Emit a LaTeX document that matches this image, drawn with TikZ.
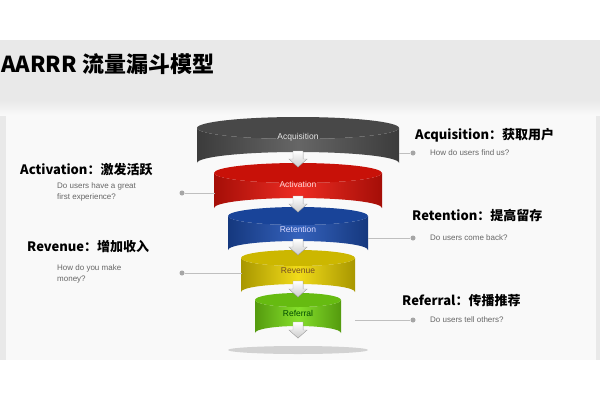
\documentclass[tikz,border=0pt]{standalone}
\usepackage{fontspec}
\setmainfont{Liberation Sans}
\newfontfamily\cjk{Noto Sans CJK SC}
\usetikzlibrary{calc}
\definecolor{cgray}{RGB}{85,85,85}
\definecolor{cred}{RGB}{235,20,10}
\definecolor{cblue}{RGB}{30,80,180}
\definecolor{cyel}{RGB}{240,215,0}
\definecolor{cgreen}{RGB}{120,220,20}
\tikzset{
 head/.style={font=\cjk\fontsize{13}{15}\selectfont\bfseries, anchor=west, inner sep=0},
 sub/.style={font=\fontsize{8}{11}\selectfont, text=gray!80!black, anchor=west, align=left, inner sep=0},
 dot/.style={circle, fill=gray!70, inner sep=0, minimum size=5pt},
 lead/.style={draw=gray!50, line width=0.6pt},
 lbl/.style={font=\fontsize{8.5}{10}\selectfont, inner sep=0},
}
\newcommand{\mydisk}[7]{% cx, ytop, ybot, rx, ry, color, name
 \shade[left color=#6!70!black, right color=#6!70!black, middle color=#6!90!white]
   (#1-#4,#2) -- (#1-#4,#3) arc[start angle=180,end angle=360,x radius=#4,y radius=#5] -- (#1+#4,#2) arc[start angle=0,end angle=180,x radius=#4,y radius=#5] -- cycle;
 \fill[#6!85!black] (#1,#2) ellipse[x radius=#4,y radius=#5];
 \coordinate (#7) at (#1,{(#2+#3)/2});
}
\newcommand{\myarrow}[2]{% cx, ytop
 \filldraw[draw=gray!60, top color=white, bottom color=gray!40] (#1-5,#2) -- (#1+5,#2) -- (#1+5,#2+8) -- (#1+9,#2+8) -- (#1,#2+16) -- (#1-9,#2+8) -- (#1-5,#2+8) -- cycle;
}
\begin{document}
\begin{tikzpicture}[x=1pt,y=-1pt]
\useasboundingbox (0,0) rectangle (600,400);
\fill[white] (0,0) rectangle (600,400);
\fill[gray!17] (0,40) rectangle (600,360);
\shade[top color=gray!17, bottom color=gray!5] (0,100) rectangle (600,115);
\fill[gray!5] (6,115) rectangle (596,360);
\node[font=\cjk\fontsize{22}{24}\selectfont\bfseries, anchor=west, inner sep=0] (title) at (1,64) {AARRR 流量漏斗模型};
\fill[gray!35] (298,350) ellipse[x radius=70,y radius=4];
\mydisk{298}{300}{333}{43}{7}{cgreen}{d5}
\mydisk{298}{258}{292}{57}{8}{cyel}{d4}
\mydisk{298}{216}{250}{70}{9}{cblue}{d3}
\mydisk{298}{173}{208}{84}{10}{cred}{d2}
\mydisk{298}{128}{163}{101}{11}{cgray}{d1}
\myarrow{298}{151}
\myarrow{298}{196}
\myarrow{298}{239}
\myarrow{298}{281}
\myarrow{298}{322}
\node[lbl, text=white!85!gray] (t1) at (298,137) {Acquisition};
\node[lbl, text=white!85!red] (t2) at (298,184) {Activation};
\node[lbl, text=white!85!blue] (t3) at (298,229) {Retention};
\node[lbl, text=brown!60!black] (t4) at (298,271) {Revenue};
\node[lbl, text=green!30!black] (t5) at (298,313) {Referral};
\node[head] (h1) at (415,135) {Acquisition：获取用户};
\node[sub] (s1) at (430,153) {How do users find us?};
\node[dot] (p1) at (413,153) {};
\draw[lead] (399,153) -- (p1);
\node[head] (h2) at (20,170) {Activation：激发活跃};
\node[sub] (s2) at (57,192) {Do users have a great\\first experience?};
\node[dot] (p2) at (182,193) {};
\draw[lead] (p2) -- (215,193);
\node[head] (h3) at (412,216) {Retention：提高留存};
\node[sub] (s3) at (430,238) {Do users come back?};
\node[dot] (p3) at (413,238) {};
\draw[lead] (368,238) -- (p3);
\node[head] (h4) at (27,247) {Revenue：增加收入};
\node[sub] (s4) at (57,274) {How do you make\\money?};
\node[dot] (p4) at (182,273) {};
\draw[lead] (p4) -- (242,273);
\node[head] (h5) at (402,301) {Referral：传播推荐};
\node[sub] (s5) at (430,320) {Do users tell others?};
\node[dot] (p5) at (413,320) {};
\draw[lead] (355,320) -- (p5);
\end{tikzpicture}
\end{document}
